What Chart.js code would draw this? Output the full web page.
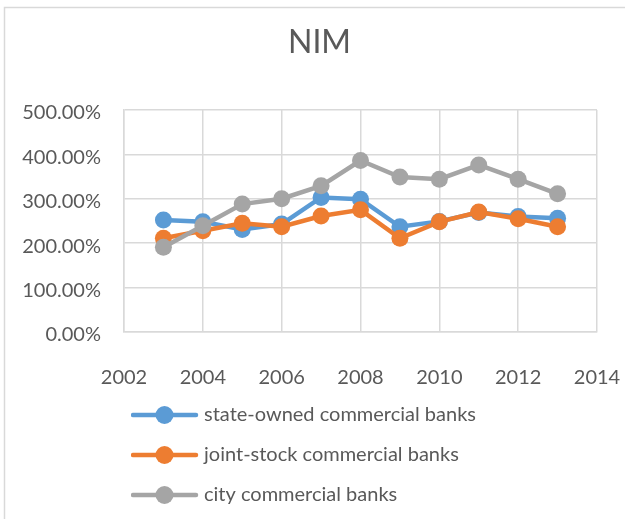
<!DOCTYPE html>
<html>
<head>
<meta charset="utf-8">
<script src="https://cdn.jsdelivr.net/npm/chart.js@4.4.1/dist/chart.umd.min.js"></script>
<style>
  html, body { margin: 0; padding: 0; background: #ffffff; }
  #wrap { width: 625px; height: 519px; }
</style>
</head>
<body>
<div id="wrap"><canvas id="graficaNIM"></canvas></div>
<script>
// Datos de NIM por tipo de banco (en %)
const anios = [2003, 2004, 2005, 2006, 2007, 2008, 2009, 2010, 2011, 2012, 2013];
const bancosEstatales = [252, 248, 231, 243, 303, 299, 237, 249, 269, 260, 256];
const bancosAccionariales = [211, 228, 245, 237, 261, 275, 211, 248, 270, 255, 237];
const bancosUrbanos = [191, 239, 288, 300, 329, 386, 349, 344, 376, 344, 311];
const etiquetasSeries = ["state-owned commercial banks", "joint-stock commercial banks", "city commercial banks"];
const coloresSeries = ["#5B9BD5", "#ED7D31", "#A5A5A5"];

const textoGris = "#595959";
const lineaGrid = "#d9d9d9";

// Pares {x, y} para el eje X numérico
function puntos(valores) {
    return anios.map((a, i) => ({ x: a, y: valores[i] }));
}

// Icono de leyenda: línea con marcador en el centro (estilo Excel)
function iconoLeyenda(color) {
    const c = document.createElement("canvas");
    c.width = 76;
    c.height = 22;
    const g = c.getContext("2d");
    g.strokeStyle = color;
    g.lineWidth = 4.5;
    g.lineCap = "round";
    g.beginPath();
    g.moveTo(2, 11);
    g.lineTo(65, 11);
    g.stroke();
    g.fillStyle = color;
    g.beginPath();
    g.arc(33.5, 11, 9, 0, Math.PI * 2);
    g.fill();
    return c;
}
const iconos = coloresSeries.map(iconoLeyenda);

// Marco gris claro del área del gráfico
const marcoGrafico = {
    id: "marcoGrafico",
    beforeDraw(chart) {
        const ctx = chart.ctx;
        ctx.save();
        ctx.fillStyle = "#ffffff";
        ctx.fillRect(0, 0, chart.width, chart.height);
        ctx.strokeStyle = lineaGrid;
        ctx.lineWidth = 1.5;
        ctx.strokeRect(4.5, 7.5, chart.width + 20, chart.height + 20);
        ctx.restore();
    },
};

function serie(i, valores, orden) {
    return {
        label: etiquetasSeries[i],
        data: puntos(valores),
        borderColor: coloresSeries[i],
        backgroundColor: coloresSeries[i],
        borderWidth: 4.5,
        pointRadius: 8.5,
        pointHoverRadius: 8.5,
        pointBorderWidth: 0,
        tension: 0,
        order: orden, // la última serie queda encima
    };
}

const ctx = document.getElementById("graficaNIM").getContext("2d");
window.chartNIM = new Chart(ctx, {
    type: "line",
    data: {
        datasets: [
            serie(0, bancosEstatales, 3),
            serie(1, bancosAccionariales, 2),
            serie(2, bancosUrbanos, 1),
        ],
    },
    options: {
        responsive: true,
        maintainAspectRatio: false,
        animation: false,
        layout: { padding: { left: 14, right: 0, top: 0, bottom: 4 } },
        scales: {
            x: {
                type: "linear",
                min: 2002,
                max: 2014,
                // marcas invisibles para separar las etiquetas del eje
                grid: { color: lineaGrid, lineWidth: 1.5, drawTicks: true, tickLength: 31, tickColor: "rgba(0,0,0,0)" },
                border: { color: lineaGrid, width: 1.5 },
                ticks: {
                    stepSize: 2,
                    padding: 3,
                    color: textoGris,
                    font: { family: "Lato", size: 20 },
                    maxRotation: 0,
                    callback: (v) => String(v),
                },
                afterFit(scale) { scale.height = 53; },
            },
            y: {
                min: 0,
                max: 500,
                grid: { color: lineaGrid, lineWidth: 1.5, drawTicks: false },
                border: { color: lineaGrid, width: 1.5 },
                ticks: {
                    stepSize: 100,
                    padding: 23,
                    labelOffset: 3,
                    color: textoGris,
                    font: { family: "Lato", size: 20 },
                    callback: (v) => v.toFixed(2) + "%",
                },
                afterFit(scale) { scale.width = 110; },
            },
            // margen derecho vacío junto al área de trazado
            margenDerecho: {
                position: "right",
                display: true,
                min: 0,
                max: 1,
                grid: { display: false },
                border: { display: false },
                ticks: { display: false },
                afterFit(scale) { scale.width = 28; },
            },
        },
        plugins: {
            title: {
                display: true,
                text: "NIM",
                color: textoGris,
                font: { family: "Lato", size: 32, weight: "normal" },
                padding: { top: 23.5, bottom: 48 },
            },
            legend: {
                display: true,
                position: "bottom",
                align: "start",
                fullSize: false,
                labels: {
                    usePointStyle: true,
                    pointStyleWidth: 50,
                    padding: 20,
                    color: textoGris,
                    font: { family: "Lato", size: 20 },
                    sort: (a, b) => a.datasetIndex - b.datasetIndex,
                    generateLabels(chart) {
                        const items = Chart.defaults.plugins.legend.labels.generateLabels(chart);
                        items.forEach((it) => { it.pointStyle = iconos[it.datasetIndex]; });
                        return items;
                    },
                },
            },
            tooltip: { enabled: false },
        },
    },
    plugins: [marcoGrafico],
});
</script>
</body>
</html>
